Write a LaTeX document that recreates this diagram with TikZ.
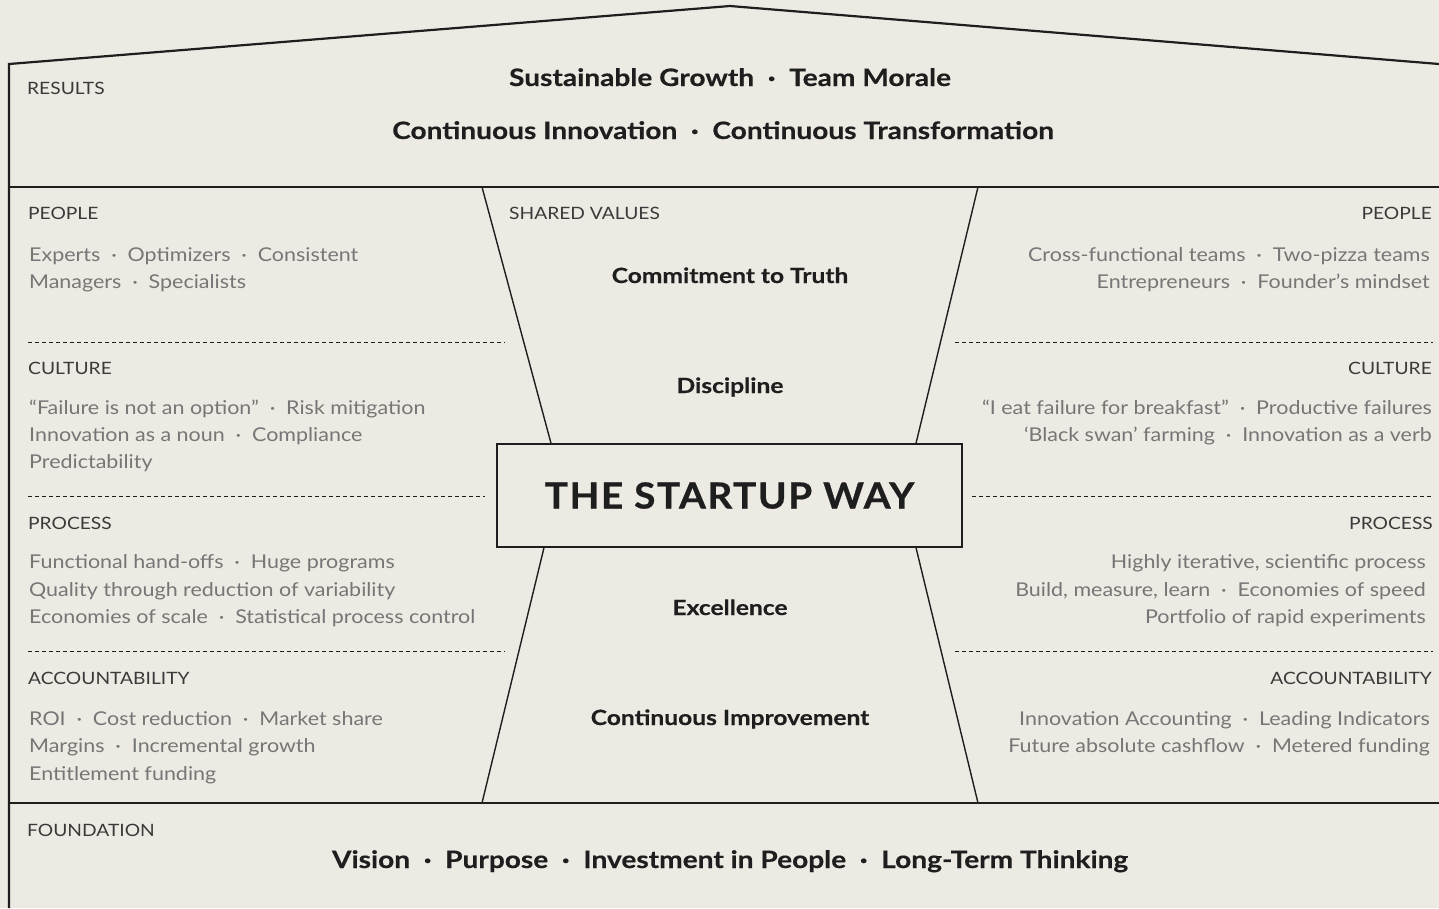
\documentclass[tikz,border=0pt]{standalone}
\usepackage{fontspec}
\setmainfont{Lato}[FakeStretch=1.13]
\newfontfamily\strongfont{Lato Bold}[FakeStretch=1.17,FakeBold=0.4]
\newfontfamily\titlefont{Lato Bold}[FakeStretch=1.08,FakeBold=0.6,LetterSpace=4]
\definecolor{paper}{HTML}{EDEAE3}
\definecolor{ink}{HTML}{1E1E1E}
\definecolor{greytext}{HTML}{767676}
\definecolor{headtext}{HTML}{3A3A3A}
\newcommand{\dotsep}{\hspace{0.57em}·\hspace{0.57em}}
\begin{document}
\begin{tikzpicture}[
    x=1pt,y=-1pt,
    frame/.style={line width=2.2pt,draw=ink},
    glass/.style={line width=1.4pt,draw=ink},
    divider/.style={line width=0.9pt,draw=ink,dash pattern=on 4pt off 3pt},
    heading/.style={inner sep=0pt,text=headtext,font=\fontsize{17}{20}\selectfont},
    item/.style={inner sep=0pt,text=greytext,font=\fontsize{19}{22}\selectfont},
    strong/.style={inner sep=0pt,text=ink,font=\strongfont\fontsize{24}{28}\selectfont},
    value/.style={inner sep=0pt,text=ink,font=\strongfont\fontsize{21}{24}\selectfont},
    title/.style={draw=ink,line width=2.2pt,minimum width=465pt,minimum height=103pt,
      text=ink,font=\titlefont\fontsize{36}{40}\selectfont}
  ]
  \fill[paper] (0,0) rectangle (1439,908);
  \useasboundingbox (0,0) rectangle (1439,908);

  % House frame
  \coordinate (roofL) at (9,64);
  \coordinate (apex) at (730,6);
  \coordinate (roofR) at (1439,64);
  \coordinate (wallB) at (9,908);
  \coordinate (resL) at (9,187);
  \coordinate (resR) at (1439,187);
  \coordinate (fndL) at (9,803);
  \coordinate (fndR) at (1439,803);
  \draw[frame] (wallB) -- (roofL) -- (apex) -- (roofR);
  \draw[frame] (resL) -- (resR);
  \draw[frame] (fndL) -- (fndR);

  % Results
  \node[heading,anchor=base west] (results) at (27,94) {RESULTS};
  \node[strong,anchor=base] (growth) at (730,86) {Sustainable Growth\dotsep Team Morale};
  \node[strong,anchor=base] (innov) at (723,139) {Continuous Innovation\dotsep Continuous Transformation};

  % The startup way and shared values
  \node[title] (way) at (729.5,495.5) {THE STARTUP WAY};
  \coordinate (glTL) at (482,187);
  \coordinate (glTR) at (978,187);
  \coordinate (glBL) at (482,803);
  \coordinate (glBR) at (978,803);
  \draw[glass] (glTL) -- ([xshift=55pt]way.north west);
  \draw[glass] (glTR) -- ([xshift=-47pt]way.north east);
  \draw[glass] (glBL) -- ([xshift=48pt]way.south west);
  \draw[glass] (glBR) -- ([xshift=-47pt]way.south east);
  \node[heading,anchor=base west] (shared) at (509,219) {SHARED VALUES};
  \node[value,anchor=base] (truth) at (730,283) {Commitment to Truth};
  \node[value,anchor=base] (discipline) at (730,393) {Discipline};
  \node[value,anchor=base] (excellence) at (730,615) {Excellence};
  \node[value,anchor=base] (improve) at (730,725) {Continuous Improvement};

  % Dividers
  \foreach \y/\la/\lb/\ra in {342/28/505/955, 496/28/485/972, 651/28/505/955} {
    \coordinate (dlA\y) at (\la,\y);
    \coordinate (dlB\y) at (\lb,\y);
    \coordinate (drA\y) at (\ra,\y);
    \coordinate (drB\y) at (1433,\y);
    \draw[divider] (dlA\y) -- (dlB\y);
    \draw[divider] (drA\y) -- (drB\y);
  }

  % Left column: the old way
  \node[heading,anchor=base west] (peopleL) at (28,219) {PEOPLE};
  \node[heading,anchor=base west] (cultureL) at (28,374) {CULTURE};
  \node[heading,anchor=base west] (processL) at (28,529) {PROCESS};
  \node[heading,anchor=base west] (accountL) at (28,684) {ACCOUNTABILITY};
  \foreach \n/\y/\t in {
      pl1/261/{Experts\dotsep Optimizers\dotsep Consistent},
      pl2/288/{Managers\dotsep Specialists},
      cl1/414/{“Failure is not an option”\dotsep Risk mitigation},
      cl2/441/{Innovation as a noun\dotsep Compliance},
      cl3/468/{Predictability},
      rl1/568/{Functional hand-offs\dotsep Huge programs},
      rl2/596/{Quality through reduction of variability},
      rl3/623/{Economies of scale\dotsep Statistical process control},
      al1/725/{ROI\dotsep Cost reduction\dotsep Market share},
      al2/752/{Margins\dotsep Incremental growth},
      al3/780/{Entitlement funding}} {
    \node[item,anchor=base west] (\n) at (29,\y) {\t};
  }

  % Right column: the startup way
  \node[heading,anchor=base east] (peopleR) at (1432,219) {PEOPLE};
  \node[heading,anchor=base east] (cultureR) at (1432,374) {CULTURE};
  \node[heading,anchor=base east] (processR) at (1433,529) {PROCESS};
  \node[heading,anchor=base east] (accountR) at (1432,684) {ACCOUNTABILITY};
  \foreach \n/\x/\y/\t in {
      pr1/1430/261/{Cross-functional teams\dotsep Two-pizza teams},
      pr2/1430/288/{Entrepreneurs\dotsep Founder’s mindset},
      cr1/1432/414/{“I eat failure for breakfast”\dotsep Productive failures},
      cr2/1432/441/{‘Black swan’ farming\dotsep Innovation as a verb},
      rr1/1426/568/{Highly iterative, scientific process},
      rr2/1426/596/{Build, measure, learn\dotsep Economies of speed},
      rr3/1426/623/{Portfolio of rapid experiments},
      ar1/1430/725/{Innovation Accounting\dotsep Leading Indicators},
      ar2/1430/752/{Future absolute cashflow\dotsep Metered funding}} {
    \node[item,anchor=base east] (\n) at (\x,\y) {\t};
  }

  % Foundation
  \node[heading,anchor=base west] (found) at (27,836) {FOUNDATION};
  \node[strong,anchor=base] (vision) at (730,868) {Vision\dotsep Purpose\dotsep Investment in People\dotsep Long-Term Thinking};
\end{tikzpicture}
\end{document}
